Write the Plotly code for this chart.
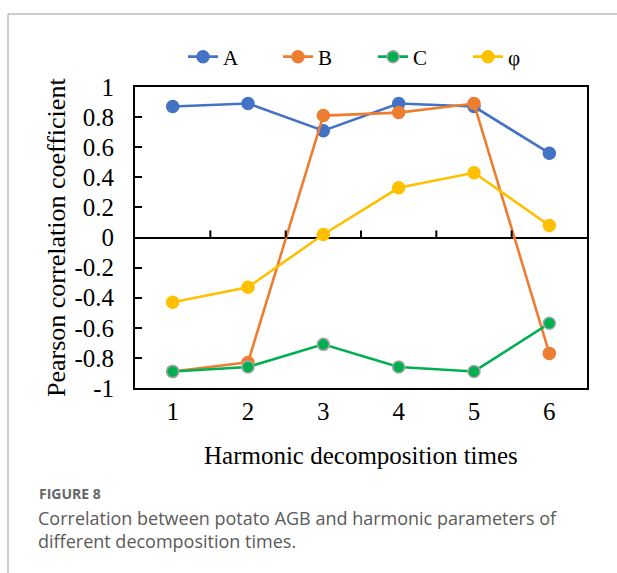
import plotly.graph_objects as go

# Harmonic decomposition times (categories) and correlation coefficients
times = [1, 2, 3, 4, 5, 6]
corr_A = [0.87, 0.89, 0.71, 0.89, 0.87, 0.56]
corr_B = [-0.89, -0.83, 0.81, 0.83, 0.89, -0.77]
corr_C = [-0.89, -0.86, -0.71, -0.86, -0.89, -0.57]
corr_phi = [-0.43, -0.33, 0.02, 0.33, 0.43, 0.08]
y_ticks = [1, 0.8, 0.6, 0.4, 0.2, 0, -0.2, -0.4, -0.6, -0.8, -1]

series = [
    ("A", corr_A, "#4472C4", "#4472C4"),
    ("B", corr_B, "#ED7D31", "#ED7D31"),
    ("C", corr_C, "#00B050", "#A5A5A5"),
    ("φ", corr_phi, "#FFC000", "#FFC000"),
]

SERIF = "Liberation Serif, Times New Roman, serif"
W, H = 617, 573
L, R, T, B = 135, 30, 87, 185
PW, PH = W - L - R, H - T - B


def px_x(p):
    return (p - L) / PW


def px_y(p):
    return (H - B - p) / PH


fig = go.Figure()
for name, vals, color, edge in series:
    fig.add_trace(go.Scatter(
        x=times, y=vals, name=name, mode="lines+markers",
        line=dict(color=color, width=2.6),
        marker=dict(size=12, color=color, line=dict(color=edge, width=1.5)),
    ))

# category boundary ticks standing on the zero line
shapes = []
for b in [t + 0.5 for t in times[:-1]]:
    shapes.append(dict(type="line", xref="x", yref="y", x0=b, x1=b, y0=0, y1=0.047,
                       line=dict(color="black", width=2)))

# outer frame (top and left rules)
shapes.append(dict(type="line", xref="paper", yref="paper",
                   x0=px_x(8), x1=px_x(W + 5), y0=px_y(14), y1=px_y(14),
                   line=dict(color="#9a9a9a", width=1)))
shapes.append(dict(type="line", xref="paper", yref="paper",
                   x0=px_x(8), x1=px_x(8), y0=px_y(14), y1=px_y(575),
                   line=dict(color="#9a9a9a", width=1)))

annotations = [
    dict(text="Harmonic decomposition times", xref="paper", yref="paper",
         x=px_x(361), y=px_y(455), showarrow=False, xanchor="center", yanchor="middle",
         font=dict(family=SERIF, size=25, color="black")),
    dict(text="Pearson correlation coefficient", xref="paper", yref="paper",
         x=px_x(56), y=px_y(238), showarrow=False, textangle=-90,
         xanchor="center", yanchor="middle",
         font=dict(family=SERIF, size=26, color="black")),
    dict(text="<b>FIGURE 8</b>", xref="paper", yref="paper",
         x=px_x(37), y=px_y(494), showarrow=False, xanchor="left", yanchor="middle",
         font=dict(family="Open Sans, sans-serif", size=14, color="#666666")),
    dict(text="Correlation between potato AGB and harmonic parameters of<br>different decomposition times.",
         xref="paper", yref="paper", align="left",
         x=px_x(36), y=px_y(529), showarrow=False, xanchor="left", yanchor="middle",
         font=dict(family="Open Sans, sans-serif", size=18, color="#5a5a5a")),
]

fig.update_layout(
    width=W, height=H,
    margin=dict(l=L, r=R, t=T, b=B, autoexpand=False),
    paper_bgcolor="white", plot_bgcolor="white",
    showlegend=True,
    legend=dict(orientation="h", x=px_x(183), y=px_y(57), xanchor="left", yanchor="middle",
                font=dict(family=SERIF, size=21, color="black"),
                entrywidth=50, entrywidthmode="pixels", bgcolor="rgba(0,0,0,0)"),
    shapes=shapes,
    annotations=annotations,
    xaxis=dict(range=[0.5, 6.5], tickvals=times, ticktext=[str(t) for t in times],
               ticks="", showgrid=False, zeroline=False,
               showline=True, linecolor="black", linewidth=2, mirror=True,
               tickfont=dict(family=SERIF, size=25, color="black")),
    yaxis=dict(range=[-1, 1], tickvals=y_ticks, ticktext=[f"{v:g}" for v in y_ticks],
               ticks="inside", ticklen=7, tickwidth=2, tickcolor="black",
               showgrid=False, zeroline=True, zerolinecolor="black", zerolinewidth=2,
               showline=True, linecolor="black", linewidth=2, mirror=True,
               ticklabelstandoff=14,
               tickfont=dict(family=SERIF, size=25, color="black")),
)

fig.write_html("out.html")
